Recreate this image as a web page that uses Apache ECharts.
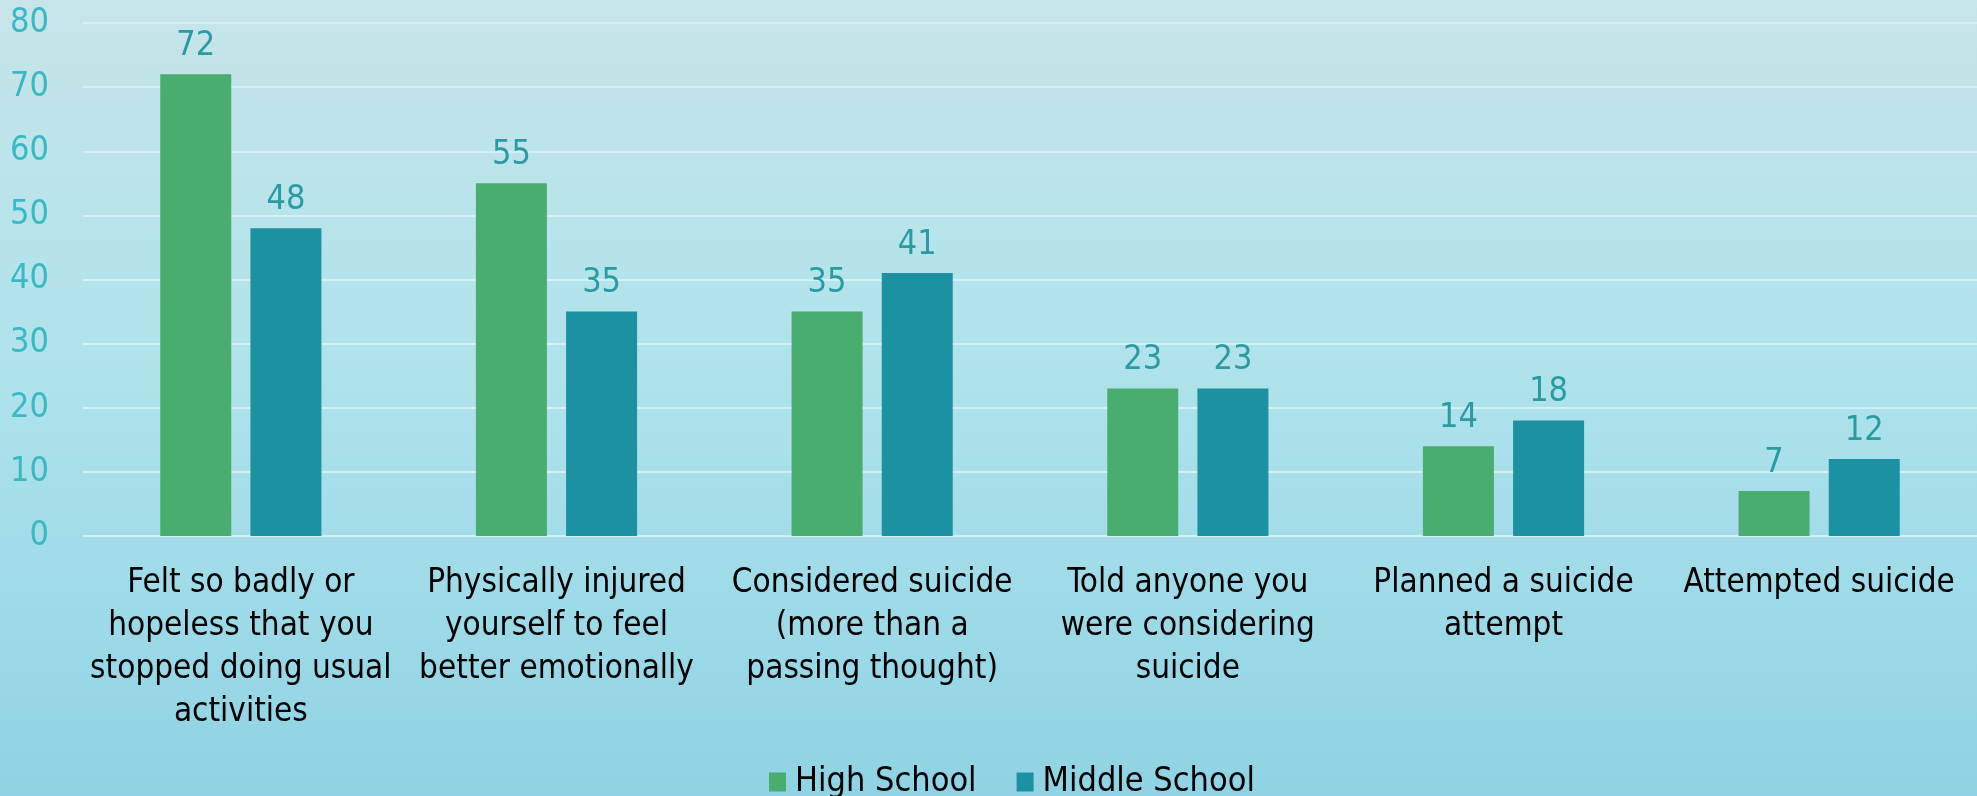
<!DOCTYPE html>
<html>
<head>
<meta charset="utf-8">
<script src="https://cdn.jsdelivr.net/npm/echarts@6/dist/echarts.min.js"></script>
<style>
html,body{margin:0;padding:0;width:100%;height:100%;overflow:hidden;}
#chart{width:1977px;height:796px;}
</style>
</head>
<body>
<div id="chart"></div>
<script>
var categories = [
  "Felt so badly or\nhopeless that you\nstopped doing usual\nactivities",
  "Physically injured\nyourself to feel\nbetter emotionally",
  "Considered suicide\n(more than a\npassing thought)",
  "Told anyone you\nwere considering\nsuicide",
  "Planned a suicide\nattempt",
  "Attempted suicide"
];
var highSchool = [72, 55, 35, 23, 14, 7];
var middleSchool = [48, 35, 41, 23, 18, 12];
var seriesNames = ["High School", "Middle School"];

var FONT = "'DejaVu Sans Condensed', 'DejaVu Sans', sans-serif";
var chart = echarts.init(document.getElementById('chart'));
chart.setOption({
  backgroundColor: new echarts.graphic.LinearGradient(0, 0, 0, 1, [
    {offset: 0, color: '#c6e5e9'},
    {offset: 0.5, color: '#ade2eb'},
    {offset: 1, color: '#8fd3e4'}
  ]),
  animation: false,
  grid: {left: 83, width: 1900, top: 23, height: 513, containLabel: false},
  legend: {
    data: seriesNames,
    left: 764, top: 760,
    itemWidth: 17, itemHeight: 19, itemGap: 40,
    icon: 'rect',
    textStyle: {fontFamily: FONT, fontSize: 34, color: '#000', padding: [0,0,0,4]}
  },
  xAxis: {
    type: 'category',
    data: categories,
    axisLine: {show: false},
    axisTick: {show: false},
    axisLabel: {
      interval: 0, margin: 26,
      fontFamily: FONT, fontSize: 33, lineHeight: 43, color: '#000', align: 'center'
    }
  },
  yAxis: {
    type: 'value', min: 0, max: 80, interval: 10,
    axisLine: {show: false}, axisTick: {show: false},
    splitLine: {lineStyle: {color: '#d6f1f5', width: 2}},
    axisLabel: {fontFamily: FONT, fontSize: 34, color: '#3ab9c5', margin: 34}
  },
  series: [
    {
      name: seriesNames[0], type: 'bar', data: highSchool,
      barWidth: 71, barGap: '27%',
      itemStyle: {color: '#49ad6f'},
      label: {show: true, position: 'top', distance: 11, fontFamily: FONT, fontSize: 34, color: '#2b9ba3'}
    },
    {
      name: seriesNames[1], type: 'bar', data: middleSchool,
      barWidth: 71,
      itemStyle: {color: '#1c91a1'},
      label: {show: true, position: 'top', distance: 11, fontFamily: FONT, fontSize: 34, color: '#2b9ba3'}
    }
  ]
});
</script>
</body>
</html>
